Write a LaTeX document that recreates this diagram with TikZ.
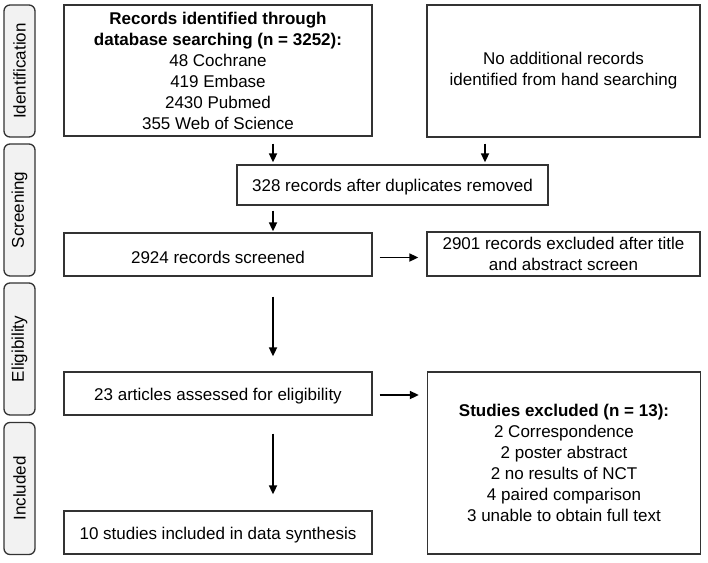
\documentclass[tikz,border=0pt]{standalone}
\usepackage{fontspec}
\setmainfont{Liberation Sans}
\usetikzlibrary{arrows.meta}

\begin{document}
\begin{tikzpicture}[x=1pt, y=-1pt,
        box/.style={draw=black!80, line width=1.3pt, inner sep=0pt, align=center,
            font=\fontsize{17}{21}\selectfont,
            execute at begin node={\rule{0pt}{17.5pt}}},
        side/.style={draw=black!80, line width=1.3pt, fill=black!5, rounded corners=6pt,
            inner sep=0pt, rotate=90, minimum width=132pt, minimum height=31pt,
            font=\fontsize{17}{21}\selectfont},
        arr/.style={line width=1.7pt, -{Triangle[length=9pt,width=8pt]}}]
        \def\lw{308pt}
        \def\rw{273pt}
        \useasboundingbox (0,0) rectangle (708,562);

        \foreach \i/\lab/\y in {1/Identification/71, 2/Screening/210, 3/Eligibility/349, 4/Included/488.5} {
            \node[side] (side\i) at (19.5,\y) {\lab};
        }

        \node[box, minimum width=\lw, minimum height=131pt] (rec) at (218,70.5)
            {\textbf{Records identified through}\\ \textbf{database searching (n = 3252):}\\
             48 Cochrane\\ 419 Embase\\ 2430 Pubmed\\ 355 Web of Science};
        \node[box, minimum width=\rw, minimum height=132pt] (hand) at (563.5,71)
            {No additional records\\ identified from hand searching};
        \node[box, minimum width=311pt, minimum height=40pt] (dup) at (392.5,185)
            {328 records after duplicates removed};
        \node[box, minimum width=\lw, minimum height=43pt] (scr) at (218,254.5)
            {2924 records screened};
        \node[box, minimum width=\rw, minimum height=44pt] (exA) at (563.5,254)
            {2901 records excluded after title\\ and abstract screen};
        \node[box, minimum width=\lw, minimum height=43pt] (elig) at (218,393.5)
            {23 articles assessed for eligibility};
        \node[box, minimum width=\rw, minimum height=182pt] (exB) at (564,463)
            {\textbf{Studies excluded (n = 13):}\\ 2 Correspondence\\ 2 poster abstract\\
             2 no results of NCT\\ 4 paired comparison\\ 3 unable to obtain full text};
        \node[box, minimum width=\lw, minimum height=43pt] (incl) at (218,532.5)
            {10 studies included in data synthesis};

        \coordinate (colA) at (273,0);
        \coordinate (colB) at (485,0);

        \draw[arr, shorten <=7pt, shorten >=2pt] (rec.south -| colA) -- (dup.north -| colA);
        \draw[arr, shorten <=6pt, shorten >=2pt] (hand.south -| colB) -- (dup.north -| colB);
        \draw[arr, shorten <=5pt, shorten >=1pt] (dup.south -| colA) -- (scr.north -| colA);
        \draw[arr, shorten <=7pt, shorten >=8pt] ([yshift=-3pt]scr.east) -- ([yshift=-3pt]scr.east -| exA.west);
        \draw[arr, shorten <=20pt, shorten >=15pt] (scr.south -| colA) -- (elig.north -| colA);
        \draw[arr, shorten <=7pt, shorten >=8pt] ([yshift=-1.5pt]elig.east) -- ([yshift=-1.5pt]elig.east -| exB.west);
        \draw[arr, shorten <=18pt, shorten >=16pt] (elig.south -| colA) -- (incl.north -| colA);
    \end{tikzpicture}
\end{document}
